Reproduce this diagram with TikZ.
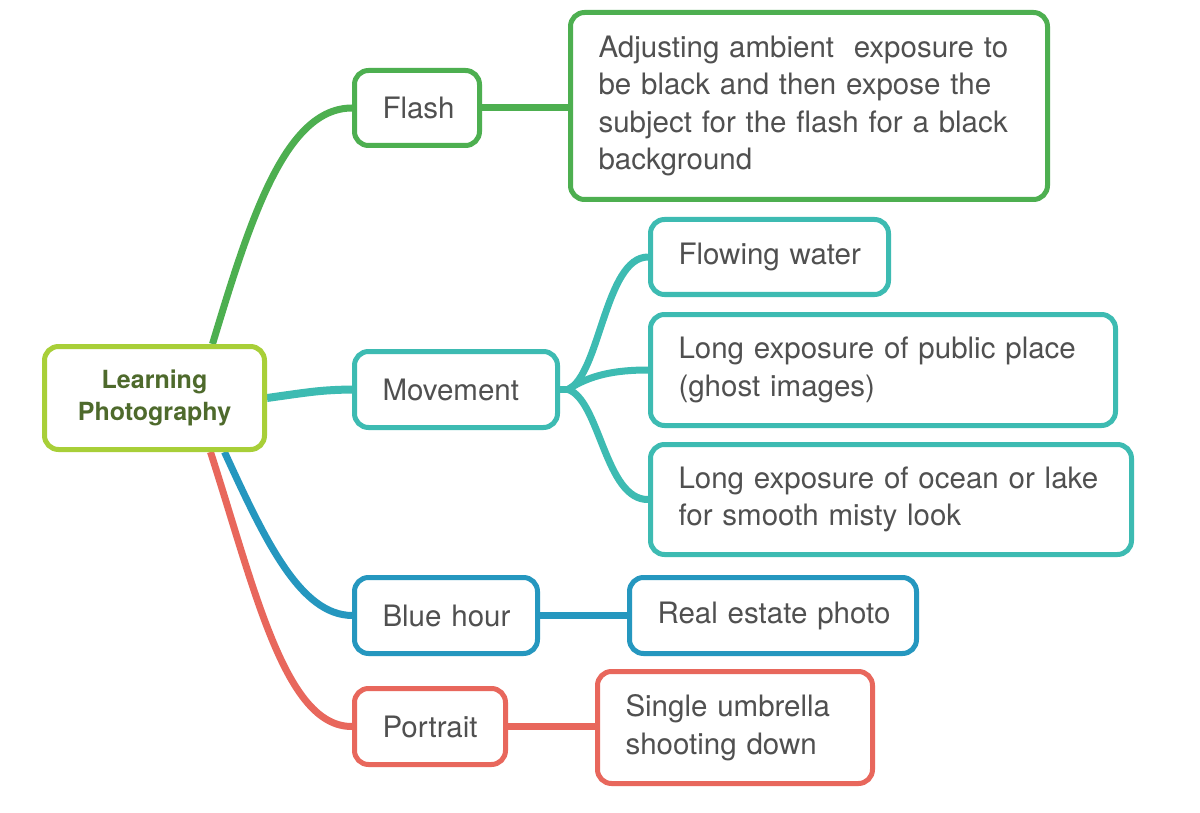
\documentclass[tikz,border=0pt]{standalone}
\usepackage{fontspec}
\setmainfont{TeX Gyre Heros}
\usetikzlibrary{calc,backgrounds}
\definecolor{cgreen}{HTML}{4DAF50}
\definecolor{clime}{HTML}{A8CF38}
\definecolor{cteal}{HTML}{3DBBB2}
\definecolor{cblue}{HTML}{2597BF}
\definecolor{cred}{HTML}{E8675C}
\definecolor{txtgray}{HTML}{505050}
\definecolor{rootText}{HTML}{4E6A2C}
\newcommand{\myline}[1]{\mbox{#1}}
\tikzset{
  box/.style={draw=#1, line width=5pt, rounded corners=14pt, fill=white,
    inner xsep=28pt, inner ysep=0pt, align=left, text=txtgray,
    font=\fontsize{29.5}{37.5}\selectfont},
  rootbox/.style={draw=clime, line width=5pt, rounded corners=14pt, fill=white,
    align=center, text=rootText, font=\fontsize{25}{32}\selectfont\bfseries},
  conn/.style={draw=#1, line width=7pt},
}
\begin{document}
\begin{tikzpicture}[x=1pt,y=-1pt]
\useasboundingbox (0,0) rectangle (1200,813);
% nodes
\node[rootbox, minimum width=220pt, minimum height=103pt] (root) at (154.5,398) {Learning\\Photography};
\node[box=cgreen, minimum width=125pt, minimum height=75pt, text width=69pt] (flash) at (417,108) {\myline{Flash}};
\node[box=cgreen, minimum width=477pt, minimum height=187pt, text width=421pt] (fdet) at (809,106) {\myline{Adjusting ambient\ \ exposure to}\\\myline{be black and then expose the}\\\myline{subject for the flash for a black}\\\myline{background}};
\node[box=cteal, minimum width=203pt, minimum height=76pt, text width=147pt] (mov) at (456,389.5) {\myline{Movement}};
\node[box=cteal, minimum width=238pt, minimum height=75pt, text width=182pt] (fw) at (769.5,257) {\myline{Flowing water}};
\node[box=cteal, minimum width=465pt, minimum height=111pt, text width=409pt] (pub) at (883,370) {\myline{Long exposure of public place}\\\myline{(ghost images)}};
\node[box=cteal, minimum width=481pt, minimum height=110pt, text width=425pt] (ocean) at (891,499.5) {\myline{Long exposure of ocean or lake}\\\myline{for smooth misty look}};
\node[box=cblue, minimum width=183pt, minimum height=76pt, text width=127pt] (blue) at (446,615.5) {\myline{Blue hour}};
\node[box=cblue, minimum width=287pt, minimum height=76pt, text width=231pt] (real) at (773,615.5) {\myline{Real estate photo}};
\node[box=cred, minimum width=151pt, minimum height=76pt, text width=95pt] (port) at (430,726.5) {\myline{Portrait}};
\node[box=cred, minimum width=275pt, minimum height=112pt, text width=219pt] (umb) at (735,727.5) {\myline{Single umbrella}\\\myline{shooting down}};
% connectors
\begin{scope}[on background layer]
\fill[white] (0,0) rectangle (1200,813);
\coordinate (rtop) at ($(root.north)+(58,0)$);
\coordinate (rbotB) at ($(root.south)+(70,0)$);
\coordinate (rbotR) at ($(root.south)+(56,0)$);
\coordinate (mj) at ($(mov.east)+(8,0)$);
\draw[conn=cgreen] (rtop) .. controls (250,220) and (285,108) .. (flash.west);
\draw[conn=cgreen] (flash.east) -- (fdet.west |- flash.east);
\draw[conn=cteal, line width=8pt] (root.east) .. controls (310,392) and (320,390) .. (mov.west);
\draw[conn=cteal] (mov.east) -- (mj);
\draw[conn=cteal] (mj) .. controls (600,375) and (605,257) .. (fw.west);
\draw[conn=cteal] (mj) .. controls (590,375) and (615,370) .. (pub.west);
\draw[conn=cteal] (mj) .. controls (600,400) and (605,500) .. (ocean.west);
\draw[conn=cblue] (rbotB) .. controls (265,540) and (300,615) .. (blue.west);
\draw[conn=cblue] (blue.east) -- (real.west);
\draw[conn=cred] (rbotR) .. controls (255,590) and (285,727) .. (port.west);
\draw[conn=cred] (port.east) -- (umb.west |- port.east);
\end{scope}
\end{tikzpicture}
\end{document}
